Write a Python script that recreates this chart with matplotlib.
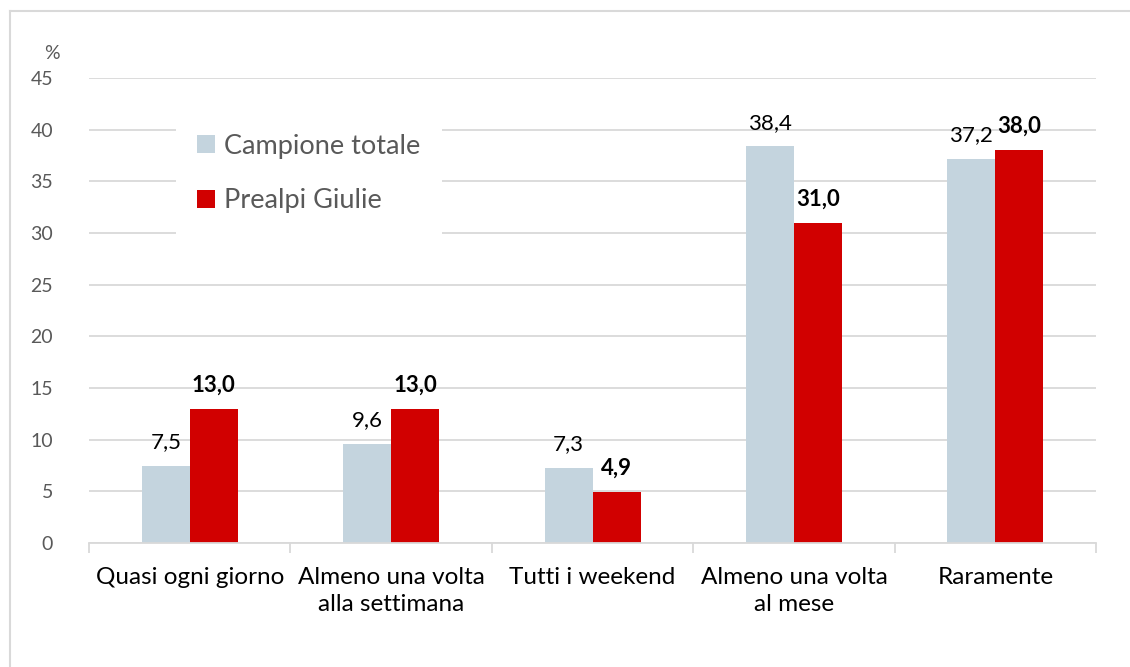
import matplotlib
matplotlib.use("Agg")
from matplotlib import pyplot as plt
from matplotlib.lines import Line2D
import numpy as np

plt.rcParams['font.family'] = ['Lato', 'DejaVu Sans']

# data
categories = ["Quasi ogni giorno", "Almeno una volta\nalla settimana", "Tutti i weekend",
              "Almeno una volta\nal mese", "Raramente"]
campione_totale = [7.5, 9.6, 7.3, 38.4, 37.2]
prealpi_giulie = [13.0, 13.0, 4.9, 31.0, 38.0]
series_names = ["Campione totale", "Prealpi Giulie"]

col_blue = "#C4D4DE"
col_red = "#D10000"
grid_col = "#D9D9D9"
txt_gray = "#595959"

fig = plt.figure(figsize=(11.3, 6.67), dpi=100)
ax = fig.add_axes([0.0788, 0.1859, 0.9912 - 0.0788 - 0.0212, 0.883 - 0.1859])

# outer frame (only left and top edges visible)
fig.add_artist(Line2D([10/1130, 10/1130], [0, 1 - 11/667], transform=fig.transFigure, color=grid_col, lw=1.5))
fig.add_artist(Line2D([10/1130, 1], [1 - 11/667, 1 - 11/667], transform=fig.transFigure, color=grid_col, lw=1.5))

x = np.arange(len(categories))
w = 0.238
b1 = ax.bar(x - w/2, campione_totale, w, color=col_blue, label=series_names[0], zorder=3)
b2 = ax.bar(x + w/2, prealpi_giulie, w, color=col_red, label=series_names[1], zorder=3)

def fmt(v):
    return f"{v:.1f}".replace(".", ",")

for rect, v in zip(b1, campione_totale):
    ax.text(rect.get_x() + rect.get_width()/2, v + 1.3, fmt(v), ha="center", va="bottom",
            fontsize=16, color="black", zorder=4)
for rect, v in zip(b2, prealpi_giulie):
    ax.text(rect.get_x() + rect.get_width()/2, v + 1.3, fmt(v), ha="center", va="bottom",
            fontsize=16, color="black", fontweight="bold", zorder=4)

ax.set_xlim(-0.5, len(categories) - 0.5)
ax.set_ylim(0, 45)
ax.set_yticks(np.arange(0, 46, 5))
ax.yaxis.grid(True, color=grid_col, lw=1.3, zorder=0)
ax.set_axisbelow(True)
for s in ["top", "right", "left"]:
    ax.spines[s].set_visible(False)
ax.spines["bottom"].set_color(grid_col)
ax.spines["bottom"].set_linewidth(1.3)
ax.spines["bottom"].set_zorder(3)

ax.tick_params(axis="y", length=0, pad=26, labelsize=14, labelcolor=txt_gray)
ax.set_xticks(x)
ax.set_xticklabels(categories, fontsize=17.5, color="black", linespacing=1.35)
ax.tick_params(axis="x", length=0, pad=17)
ax.set_xticks(np.arange(-0.5, len(categories), 1), minor=True)
ax.tick_params(axis="x", which="minor", length=7, color=grid_col, width=1.3)

ax.text(-0.037, 1.035, "%", transform=ax.transAxes, ha="center", va="bottom",
        fontsize=14, color=txt_gray)

leg = ax.legend(loc="upper left", bbox_to_anchor=(0.086, 0.927), fontsize=19.5, frameon=True,
                fancybox=False, edgecolor="white", facecolor="white", framealpha=1,
                handlelength=0.65, handleheight=0.65, handletextpad=0.35,
                labelspacing=1.1, borderpad=0.8, borderaxespad=0)
leg.get_frame().set_linewidth(0)
for t in leg.get_texts():
    t.set_color(txt_gray)

fig.savefig("out.png", dpi=100)
